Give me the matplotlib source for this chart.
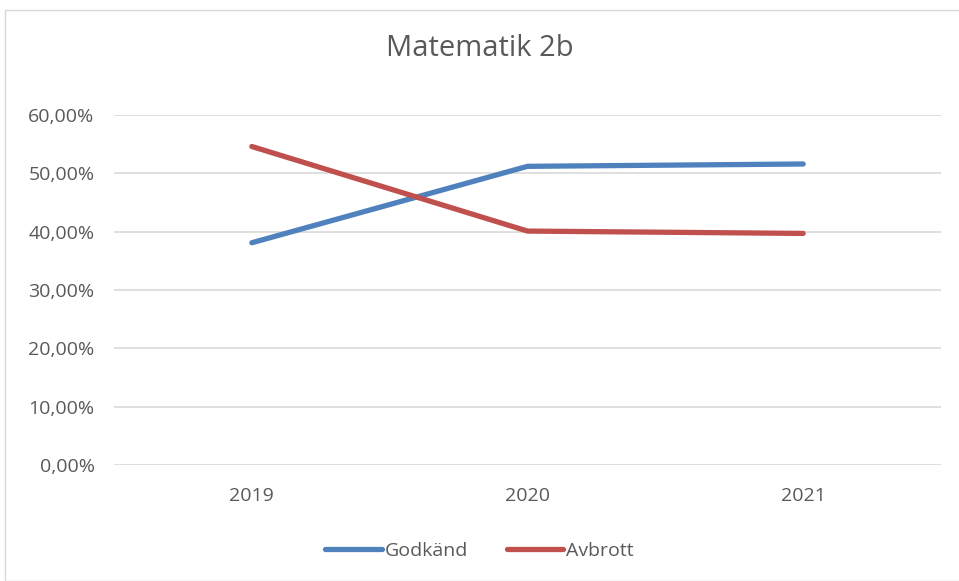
import matplotlib
matplotlib.use("Agg")
import matplotlib.pyplot as plt
from matplotlib.patches import Rectangle
from matplotlib.ticker import FuncFormatter

years = ["2019", "2020", "2021"]
godkand = [38.1, 51.2, 51.6]
avbrott = [54.6, 40.1, 39.7]
yticks = [0, 10, 20, 30, 40, 50, 60]

plt.rcParams['font.family'] = ['Open Sans', 'DejaVu Sans']
txt = '#595959'

fig = plt.figure(figsize=(9.59, 5.81), dpi=100)
W, H = 959, 581
fig.patches.append(Rectangle((5 / W, 0), 1.2, (H - 10) / H, transform=fig.transFigure,
                             fill=False, edgecolor='#d9d9d9', linewidth=1))

ax = fig.add_axes([114 / W, (H - 465) / H, (941 - 114) / W, (465 - 115) / H])
x = list(range(len(years)))
ax.plot(x, godkand, color='#4f81bd', lw=3.8, solid_capstyle='round', solid_joinstyle='round', label='Godkänd')
ax.plot(x, avbrott, color='#c0504d', lw=3.8, solid_capstyle='round', solid_joinstyle='round', label='Avbrott')
ax.set_xlim(-0.5, 2.5)
ax.set_ylim(0, 60)
ax.set_yticks(yticks)
ax.yaxis.set_major_formatter(FuncFormatter(lambda v, p: f"{v:.2f}".replace('.', ',') + '%'))
ax.set_xticks(x)
ax.set_xticklabels(years)
ax.grid(axis='y', color='#d9d9d9', lw=1.2)
ax.set_axisbelow(True)
for s in ax.spines.values():
    s.set_visible(False)
ax.tick_params(length=0, colors=txt, labelsize=14)
ax.tick_params(axis='y', pad=14)
ax.tick_params(axis='x', pad=16)

fig.text(0.5, (H - 48) / H, "Matematik 2b", ha='center', va='center', fontsize=21, color=txt)
leg = fig.legend(loc='center', bbox_to_anchor=(0.5, (H - 551) / H), ncol=2, frameon=False,
                 fontsize=14, handlelength=2.9, handletextpad=0.15, columnspacing=2.0, labelcolor=txt)

fig.savefig("out.png", dpi=100)
